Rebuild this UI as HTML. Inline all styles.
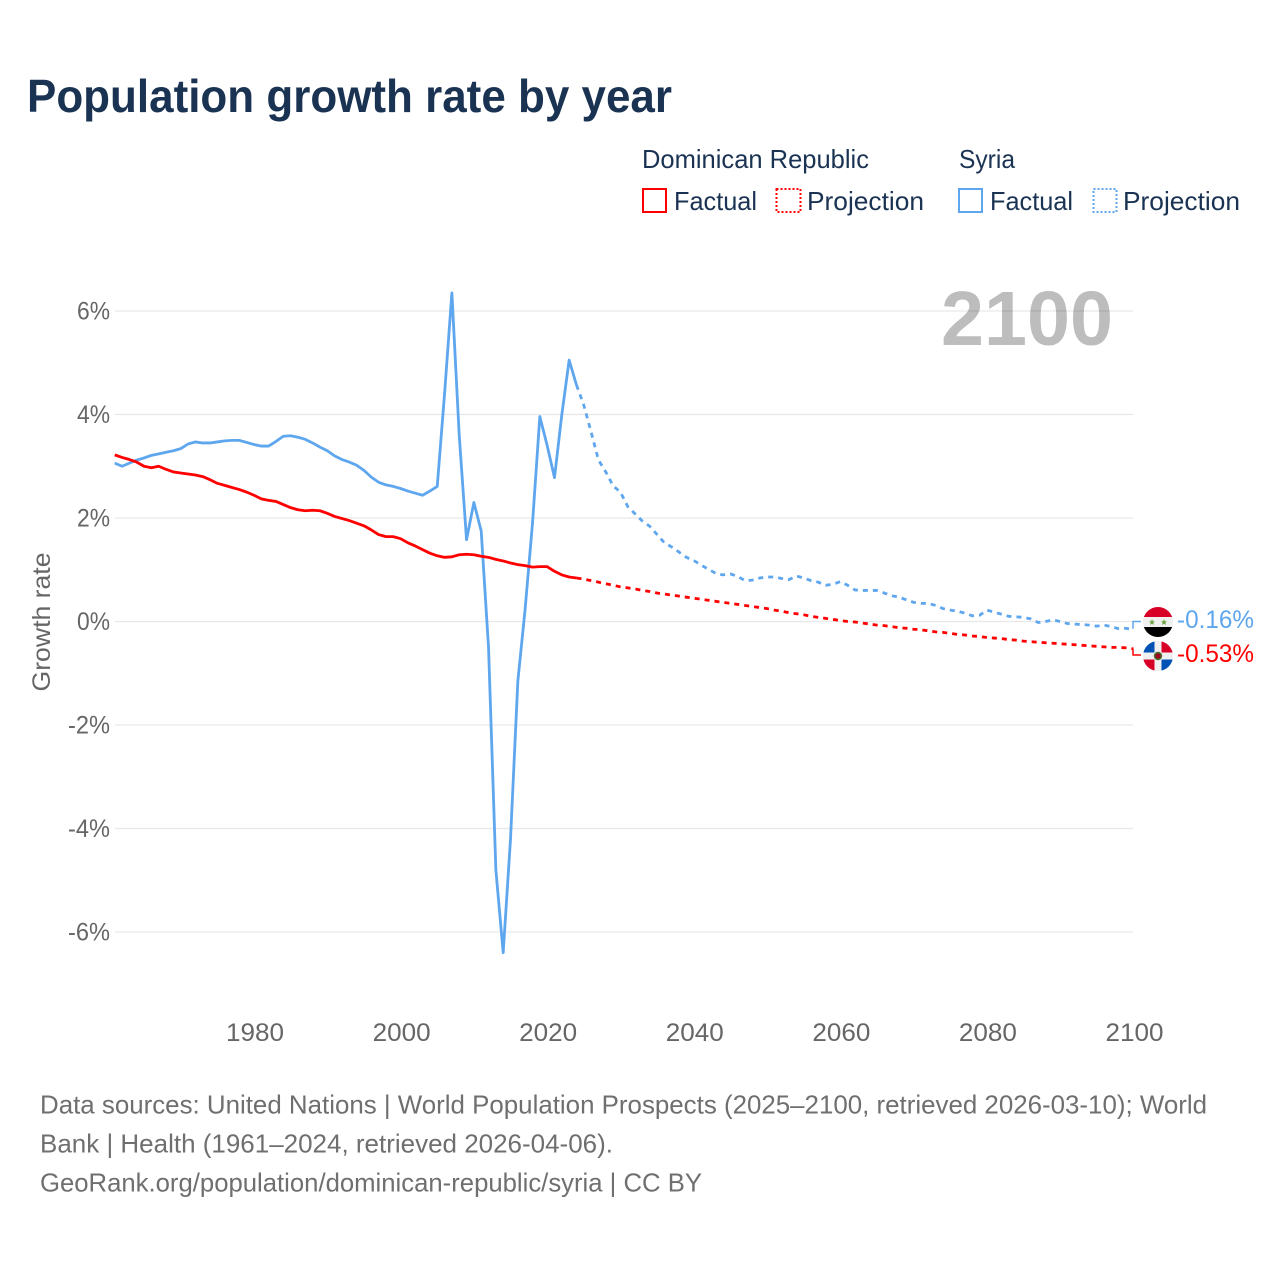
<!DOCTYPE html>
<html lang="en">
<head>
<meta charset="utf-8">
<title>Population growth rate by year</title>
<style>
html,body{margin:0;padding:0;background:#fff}
svg{display:block}
text{font-family:"Liberation Sans",sans-serif}
</style>
</head>
<body>
<svg id="chart" width="1280" height="1280" viewBox="0 0 1280 1280" xmlns="http://www.w3.org/2000/svg">
  <rect width="1280" height="1280" fill="#fff"/>
  <text x="27" y="112" font-size="46" font-weight="700" fill="#1a3353" textLength="645" lengthAdjust="spacingAndGlyphs">Population growth rate by year</text>

  <g font-size="26" fill="#1a3353">
    <text x="642" y="168" textLength="227" lengthAdjust="spacingAndGlyphs">Dominican Republic</text>
    <text x="959" y="168" textLength="56" lengthAdjust="spacingAndGlyphs">Syria</text>
    <rect x="643" y="189" width="23" height="23" fill="none" stroke="#ff0000" stroke-width="2"/>
    <text x="674" y="210" textLength="83" lengthAdjust="spacingAndGlyphs">Factual</text>
    <rect x="776.5" y="189" width="24" height="23" fill="none" stroke="#ff0000" stroke-width="2" stroke-dasharray="2 2"/>
    <text x="807" y="210" textLength="117" lengthAdjust="spacingAndGlyphs">Projection</text>
    <rect x="959" y="189" width="23" height="23" fill="none" stroke="#5ea6ee" stroke-width="2"/>
    <text x="990" y="210" textLength="83" lengthAdjust="spacingAndGlyphs">Factual</text>
    <rect x="1093.5" y="189" width="23" height="23" fill="none" stroke="#5ea6ee" stroke-width="2" stroke-dasharray="2 2"/>
    <text x="1123" y="210" textLength="117" lengthAdjust="spacingAndGlyphs">Projection</text>
  </g>

  <text x="941" y="345" font-size="77" font-weight="700" fill="#bdbdbd" textLength="172" lengthAdjust="spacingAndGlyphs">2100</text>

  <g id="grid"></g>
  <g id="yticks" font-size="25" fill="#666" text-anchor="end"></g>
  <g id="xticks" font-size="25" fill="#666" text-anchor="middle"></g>
  <text transform="translate(50,622) rotate(-90)" font-size="25" fill="#666" text-anchor="middle" textLength="139" lengthAdjust="spacingAndGlyphs">Growth rate</text>

  <g id="series"></g>

  <defs>
    <clipPath id="clip-sy"><circle cx="1158" cy="622" r="15"/></clipPath>
    <clipPath id="clip-do"><circle cx="1158" cy="656" r="15"/></clipPath>
  </defs>
  <g clip-path="url(#clip-sy)">
    <rect x="1143" y="607" width="30" height="10" fill="#d80027"/>
    <rect x="1143" y="617" width="30" height="10" fill="#f0f0f0"/>
    <rect x="1143" y="627" width="30" height="10" fill="#000"/>
    <polygon points="1152,619 1152.9,621.2 1155,621.4 1153.4,622.8 1153.9,625 1152,623.8 1150.1,625 1150.6,622.8 1149,621.4 1151.1,621.2" fill="#6da544"/>
    <polygon points="1164,619 1164.9,621.2 1167,621.4 1165.4,622.8 1165.9,625 1164,623.8 1162.1,625 1162.6,622.8 1161,621.4 1163.1,621.2" fill="#6da544"/>
  </g>
  <g clip-path="url(#clip-do)">
    <rect x="1143" y="641" width="30" height="30" fill="#f0f0f0"/>
    <rect x="1143" y="641" width="11.5" height="11.5" fill="#0052b4"/>
    <rect x="1161.5" y="641" width="11.5" height="11.5" fill="#d80027"/>
    <rect x="1143" y="659.5" width="11.5" height="11.5" fill="#d80027"/>
    <rect x="1161.5" y="659.5" width="11.5" height="11.5" fill="#0052b4"/>
    <circle cx="1158" cy="656" r="4.2" fill="#496e2d"/>
    <circle cx="1158" cy="656" r="2.6" fill="#a2001d"/>
  </g>

  <text x="1177" y="628" font-size="25" fill="#5ea6ee" textLength="77" lengthAdjust="spacingAndGlyphs">-0.16%</text>
  <text x="1177" y="662" font-size="25" fill="#ff0000" textLength="77" lengthAdjust="spacingAndGlyphs">-0.53%</text>

  <g font-size="26" fill="#6f6f6f">
    <text x="40" y="1113.5" textLength="1167" lengthAdjust="spacingAndGlyphs">Data sources: United Nations | World Population Prospects (2025–2100, retrieved 2026-03-10); World</text>
    <text x="40" y="1152.5" textLength="573" lengthAdjust="spacingAndGlyphs">Bank | Health (1961–2024, retrieved 2026-04-06).</text>
    <text x="40" y="1191.5" textLength="662" lengthAdjust="spacingAndGlyphs">GeoRank.org/population/dominican-republic/syria | CC BY</text>
  </g>
</svg>
<script>
const factualStartYear = 1961;
const projectionStartYear = 2024;
const yTickValues = [6, 4, 2, 0, -2, -4, -6];
const yTickLabels = ['6%', '4%', '2%', '0%', '-2%', '-4%', '-6%'];
const xTickYears = [1980, 2000, 2020, 2040, 2060, 2080, 2100];
const syriaFactual = [3.06,3.0,3.06,3.12,3.16,3.21,3.24,3.27,3.3,3.34,3.43,3.47,3.45,3.45,3.47,3.49,3.5,3.5,3.46,3.42,3.39,3.39,3.48,3.58,3.59,3.56,3.52,3.45,3.37,3.3,3.2,3.13,3.08,3.02,2.92,2.79,2.69,2.64,2.61,2.57,2.52,2.48,2.44,2.52,2.61,4.4,6.35,3.6,1.58,2.3,1.75,-0.5,-4.8,-6.4,-4.2,-1.15,0.25,1.9,3.96,3.4,2.78,4.0,5.05,4.57];
const syriaProjection = [4.57,4.18,3.66,3.12,2.89,2.62,2.5,2.22,2.08,1.94,1.84,1.68,1.52,1.44,1.34,1.24,1.18,1.09,1.01,0.93,0.9,0.92,0.87,0.79,0.8,0.84,0.86,0.86,0.83,0.81,0.88,0.84,0.79,0.76,0.7,0.72,0.77,0.7,0.61,0.6,0.6,0.6,0.55,0.5,0.47,0.42,0.37,0.35,0.35,0.31,0.25,0.22,0.2,0.16,0.11,0.12,0.22,0.18,0.14,0.1,0.09,0.08,0.05,-0.02,0.0,0.03,0.0,-0.04,-0.05,-0.06,-0.07,-0.09,-0.07,-0.1,-0.14,-0.13,-0.16];
const drFactual = [3.22,3.17,3.13,3.08,3.0,2.97,3.0,2.94,2.89,2.87,2.85,2.83,2.8,2.74,2.67,2.63,2.59,2.55,2.5,2.44,2.37,2.34,2.32,2.26,2.2,2.16,2.14,2.15,2.14,2.09,2.03,1.99,1.95,1.9,1.85,1.77,1.68,1.64,1.64,1.6,1.52,1.46,1.39,1.32,1.27,1.24,1.25,1.29,1.3,1.29,1.26,1.24,1.2,1.17,1.13,1.1,1.08,1.05,1.06,1.06,0.97,0.9,0.86,0.84];
const drProjection = [0.84,0.82,0.79,0.76,0.73,0.7,0.67,0.65,0.63,0.6,0.58,0.55,0.53,0.51,0.49,0.47,0.45,0.43,0.41,0.39,0.37,0.35,0.33,0.31,0.29,0.27,0.25,0.22,0.2,0.17,0.15,0.13,0.1,0.08,0.06,0.04,0.02,0.0,-0.01,-0.03,-0.05,-0.07,-0.08,-0.1,-0.12,-0.13,-0.15,-0.16,-0.18,-0.2,-0.21,-0.23,-0.25,-0.26,-0.28,-0.29,-0.31,-0.32,-0.33,-0.35,-0.36,-0.38,-0.39,-0.4,-0.41,-0.42,-0.43,-0.44,-0.45,-0.46,-0.47,-0.48,-0.49,-0.5,-0.5,-0.51,-0.53];

const SVG_NS = 'http://www.w3.org/2000/svg';
const plotLeft = 115;
const plotRight = 1133;
function xScale(year) { return 254 + (year - 1980) * (1133.5 - 254) / 120; }
function tickX(year) { return xScale(year) + 1; }
function yScale(value) { return 621.5 - value * (621.5 - 311) / 6; }
function linePath(values, startYear) {
  return values.map(function (v, i) {
    return (i ? 'L' : 'M') + xScale(startYear + i).toFixed(2) + ' ' + yScale(v).toFixed(2);
  }).join('');
}

const gridGroup = document.getElementById('grid');
const yTickGroup = document.getElementById('yticks');
const xTickGroup = document.getElementById('xticks');
const seriesGroup = document.getElementById('series');

yTickValues.forEach(function (v, i) {
  const line = document.createElementNS(SVG_NS, 'line');
  
  
  line.setAttribute('x1', plotLeft);
  line.setAttribute('x2', plotRight);
  line.setAttribute('y1', yScale(v));
  line.setAttribute('y2', yScale(v));
  line.setAttribute('stroke', '#000');
  line.setAttribute('stroke-opacity', '0.09');
  line.setAttribute('stroke-width', '1.2');
  gridGroup.appendChild(line);

  const label = document.createElementNS(SVG_NS, 'text');
  
  
  label.setAttribute('x', 110);
  label.setAttribute('y', yScale(v) + 8.5);
  label.setAttribute('textLength', v < 0 ? 42 : 33);
  label.setAttribute('lengthAdjust', 'spacingAndGlyphs');
  label.textContent = yTickLabels[i];
  yTickGroup.appendChild(label);
});

xTickYears.forEach(function (year) {
  const label = document.createElementNS(SVG_NS, 'text');
  
  
  label.setAttribute('x', tickX(year));
  label.setAttribute('y', 1041);
  label.setAttribute('textLength', 58);
  label.setAttribute('lengthAdjust', 'spacingAndGlyphs');
  label.textContent = String(year);
  xTickGroup.appendChild(label);
});

function addLine(d, color, dashed, width) {
  const path = document.createElementNS(SVG_NS, 'path');
  path.setAttribute('d', d);
  path.setAttribute('fill', 'none');
  path.setAttribute('stroke', color);
  path.setAttribute('stroke-width', width);
  path.setAttribute('stroke-linejoin', 'round');
  if (dashed) path.setAttribute('stroke-dasharray', dashed);
  seriesGroup.appendChild(path);
  return path;
}

const syriaFactualLine = addLine(linePath(syriaFactual, factualStartYear), '#5ea6ee', null, 2.8);



const drFactualLine = addLine(linePath(drFactual, factualStartYear), '#ff0000', null, 2.8);



const syriaProjectionLine = addLine(linePath(syriaProjection, projectionStartYear), '#5ea6ee', '5 5', 2.8);



const drProjectionLine = addLine(linePath(drProjection, projectionStartYear), '#ff0000', '5 5', 2.8);



const syriaEndY = yScale(syriaProjection[syriaProjection.length - 1]);
const syriaConnector = addLine('M1133 ' + (syriaEndY - 1).toFixed(1) + 'V621.5H1141', '#5ea6ee', null, 1.5);



const drEndY = yScale(drProjection[drProjection.length - 1]);
const drConnector = addLine('M1133 ' + (drEndY + 0.5).toFixed(1) + 'V655H1141', '#ff0000', null, 1.5);


</script>
</body>
</html>
